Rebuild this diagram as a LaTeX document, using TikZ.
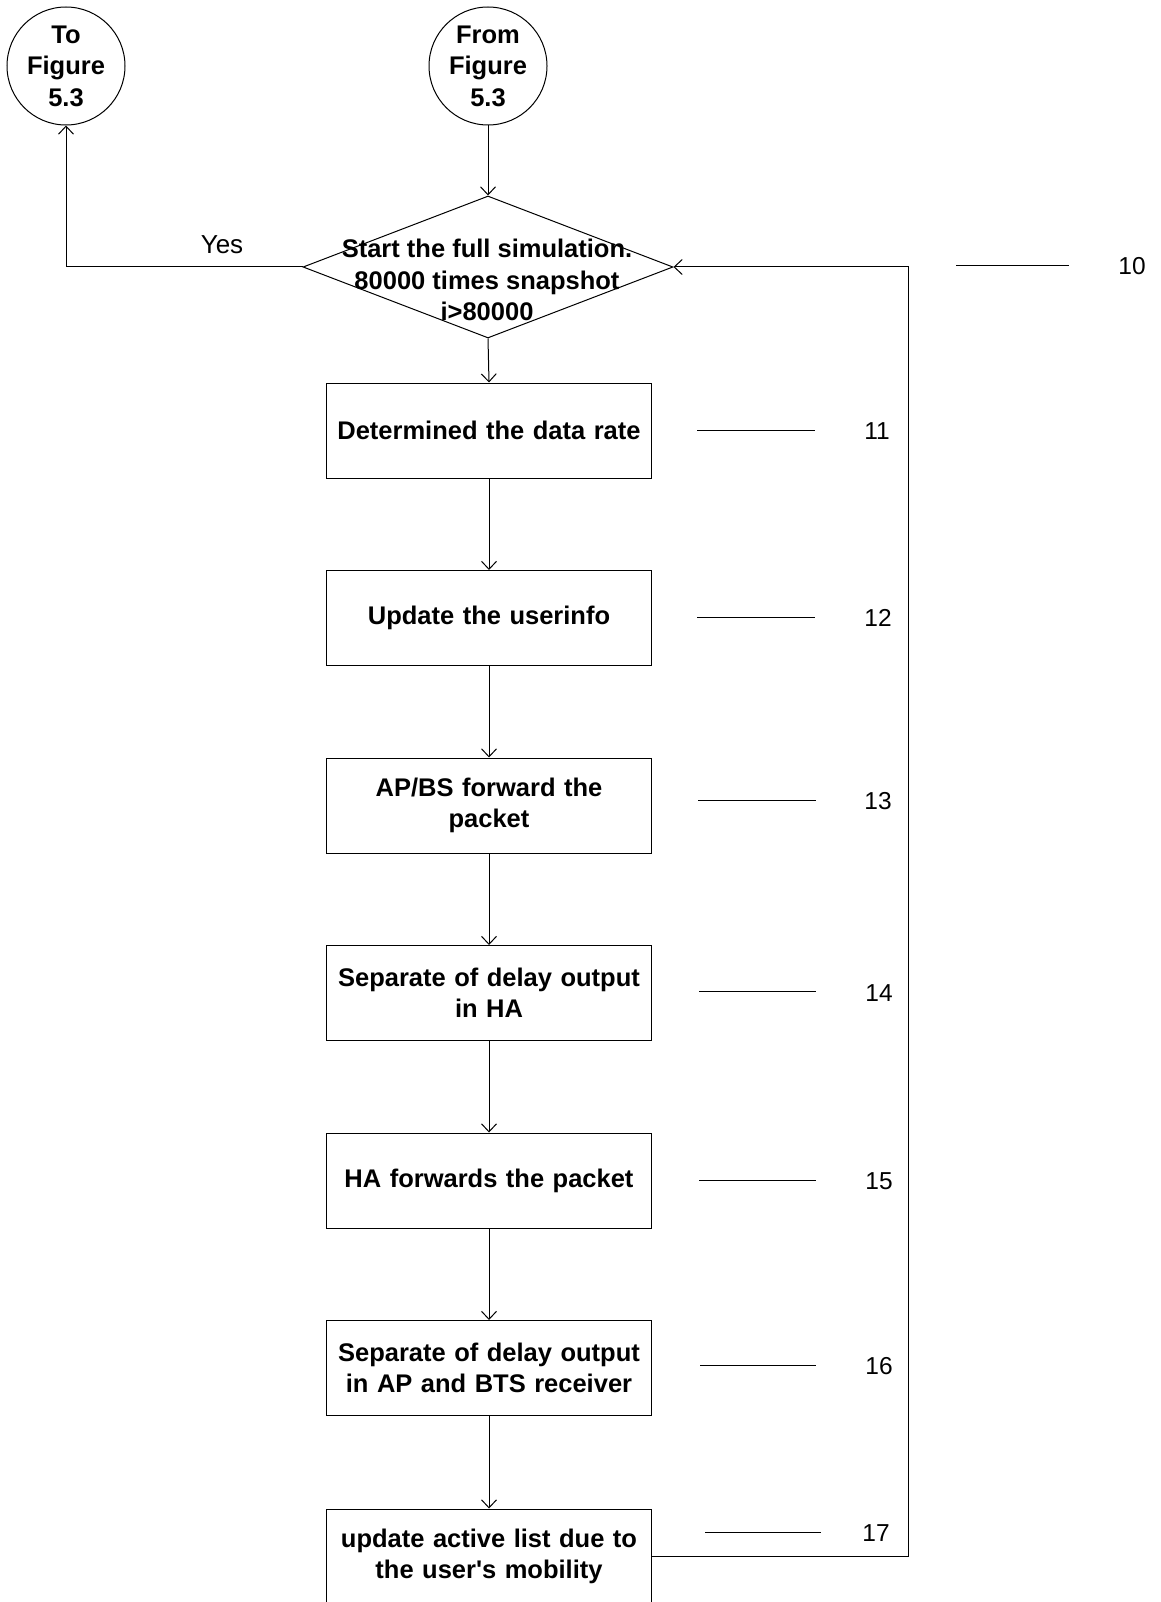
\documentclass[tikz,border=0pt]{standalone}
\usepackage{fontspec}
\setmainfont{Liberation Sans}
\usetikzlibrary{arrows.meta,shapes.geometric}
% straight apostrophe, set as a glyph so the TeX quote mapping leaves it alone
\newcommand{\straightquote}{\XeTeXglyph\XeTeXcharglyph"0027\relax}

\begin{document}
\begin{tikzpicture}[x=1pt,y=-1pt,
  line width=1pt,
  arr/.style={-{Straight Barb[length=8pt,width=15pt,line width=1pt]}},
  boldtext/.style={font=\bfseries\fontsize{25.5}{31.5}\selectfont},
  stepbox/.style={draw, rectangle, boldtext, minimum width=325pt, minimum height=95pt,
    text width=312pt, align=center, inner sep=0pt},
  conn/.style={draw, circle, boldtext, minimum size=118pt, inner sep=0pt, align=center},
  refnum/.style={font=\fontsize{24.5}{28}\selectfont, inner sep=0pt},
  plain/.style={font=\fontsize{26}{30}\selectfont, inner sep=0pt},
]
\useasboundingbox (0,0) rectangle (1160,1602);

% off-page connectors
\node[conn] (to)   at (66,66)  {To\\Figure\\5.3};
\node[conn] (from) at (488,66) {From\\Figure\\5.3};

% loop test
\node[draw, diamond, minimum width=370pt, minimum height=142pt, inner sep=0pt] (d) at (488,267) {};
\node[boldtext, align=center, inner sep=0pt] (dtext) at (487,280)
  {Start the full simulation.\\80000 times snapshot\\i>80000};
\node[plain] (yes) at (222,245) {Yes};

% process steps
\node[stepbox] (b11) at (489,430.5)  {Determined the data rate};
\node[stepbox] (b12) at (489,618)    {Update the userinfo};
\node[stepbox] (b13) at (489,805.5)  {AP/BS forward the\\packet};
\node[stepbox] (b14) at (489,993)    {Separate of delay output\\in HA};
\node[stepbox] (b15) at (489,1180.5) {HA forwards the packet};
\node[stepbox] (b16) at (489,1368)   {Separate of delay output\\in AP and BTS receiver};
\node[stepbox] (b17) at (489,1556.5) {update active list due to\\the user\straightquote s mobility};

% flow
\draw[arr] (from) -- (d.north);
\draw[arr] (d.west) -| (to.south);
\draw[arr] (d.south) -- (b11.north);
\draw[arr] (b11) -- (b12);
\draw[arr] (b12) -- (b13);
\draw[arr] (b13) -- (b14);
\draw[arr] (b14) -- (b15);
\draw[arr] (b15) -- (b16);
\draw[arr] (b16) -- (b17);

% return path to the loop test
\coordinate (fb) at (908,0);
\draw[arr] (b17.east) -- (b17.east -| fb) -- (fb |- d.east) -- (d.east);

% reference numerals
\coordinate (l10a) at (956,266);  \coordinate (l10b) at (1069,266);
\node[refnum] (n10) at (1132,266) {10};
\coordinate (l11a) at (697,430);  \coordinate (l11b) at (815,430);
\node[refnum] (n11) at (877,431) {11};
\coordinate (l12a) at (697,617);  \coordinate (l12b) at (815,617);
\node[refnum] (n12) at (878,618) {12};
\coordinate (l13a) at (698,800);  \coordinate (l13b) at (816,800);
\node[refnum] (n13) at (878,801) {13};
\coordinate (l14a) at (699,991);  \coordinate (l14b) at (816,991);
\node[refnum] (n14) at (879,993) {14};
\coordinate (l15a) at (699,1180); \coordinate (l15b) at (816,1180);
\node[refnum] (n15) at (879,1181) {15};
\coordinate (l16a) at (700,1365); \coordinate (l16b) at (816,1365);
\node[refnum] (n16) at (879,1366) {16};
\coordinate (l17a) at (705,1532); \coordinate (l17b) at (821,1532);
\node[refnum] (n17) at (876,1533) {17};
\foreach \k in {10,...,17} {\draw (l\k a) -- (l\k b);}
\end{tikzpicture}
\end{document}
